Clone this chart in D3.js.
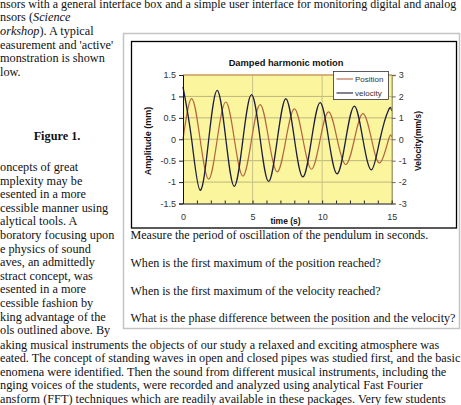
<!DOCTYPE html>
<html>
<head>
<meta charset="utf-8">
<script src="https://cdn.jsdelivr.net/npm/d3@7"></script>
<style>
  body { margin: 0; background: #fff; }
  svg { display: block; }
</style>
</head>
<body>
<div id="page"></div>
<script>
// readings from the figure: time (s), position (mm), velocity (mm/s)
var time     = [0, 0.62, 1.23, 1.85, 2.46, 3.08, 3.69, 4.31, 4.93, 5.55, 6.16, 6.78, 7.4,
                8.01, 8.62, 9.24, 9.86, 10.47, 11.08, 11.7, 12.32, 12.93, 13.55, 14.16, 14.78, 15];
var position = [0, 0.95, 0, -0.93, 0, 0.87, 0, -0.86, 0, 0.81, 0, -0.76, 0,
                0.71, 0, -0.7, 0, 0.64, 0, -0.59, 0, 0.6, 0, -0.55, 0, 0.05];
var velocity = [2.45, 0, -2.38, 0, 2.28, 0, -2.2, 0, 2.08, 0, -1.97, 0, 1.89,
                0, -1.76, 0, 1.71, 0, -1.61, 0, 1.55, 0, -1.43, 0, 1.38, 1.33];
var seriesNames = ["Position", "velocity"];
var seriesColors = ["#b4643e", "#1c1c3c"];
var ampTicks = [-1.5, -1, -0.5, 0, 0.5, 1, 1.5];
var velTicks = [-3, -2, -1, 0, 1, 2, 3];
var timeTicks = d3.range(0, 16);
var timeLabels = [0, 5, 10, 15];

var topLines = [
  {y: 7.5, size: 12, parts: [["nsors with a general interface box and a simple user interface for monitoring digital and analog", ""]]},
  {y: 21, parts: [["nsors (", ""], ["Science", "italic"]]},
  {y: 35, parts: [["orkshop", "italic"], ["). A typical", ""]]},
  {y: 49, parts: [["easurement and 'active'", ""]]},
  {y: 62, parts: [["monstration is shown", ""]]},
  {y: 76, parts: [["low.", ""]]}
];
var leftLines = ["oncepts of great", "mplexity may be", "esented in a more", "cessible manner using",
  "alytical tools. A", "boratory focusing upon", "e physics of sound", "aves, an admittedly",
  "stract concept, was", "esented in a more", "cessible fashion by", "king advantage of the",
  "ols outlined above. By"];
var bottomLines = [
  "aking musical instruments the objects of our study a relaxed and exciting atmosphere was",
  "eated. The concept of standing waves in open and closed pipes was studied first, and the basic",
  "enomena were identified. Then the sound from different musical instruments, including the",
  "nging voices of the students, were recorded and analyzed using analytical Fast Fourier",
  "ansform (FFT) techniques which are readily available in these packages. Very few students"
];
var questions = [
  "Measure the period of oscillation of the pendulum in seconds.",
  "When is the first maximum of the position reached?",
  "When is the first maximum of the velocity reached?",
  "What is the phase difference between the position and the velocity?"
];

var W = 461, H = 405;
var serif = "'Liberation Serif', 'Times New Roman', serif";
var sans = "'Liberation Sans', Arial, sans-serif";

var svg = d3.select("#page").append("svg")
  .attr("width", W)
  .attr("height", H);
svg.append("rect").attr("width", W).attr("height", H).attr("fill", "#fff");

// ---- surrounding page text ----
var txt = svg.append("g")
  .attr("font-family", serif)
  .attr("font-size", 12.25)
  .attr("fill", "#111");

topLines.forEach(function(l) {
  var t = txt.append("text").attr("x", 0).attr("y", l.y)
    .attr("font-size", l.size || null);
  l.parts.forEach(function(p) {
    t.append("tspan").attr("font-style", p[1] || null).text(p[0]);
  });
});

txt.append("text")
  .attr("x", 57).attr("y", 140)
  .attr("text-anchor", "middle")
  .attr("font-weight", "bold")
  .text("Figure 1.");

txt.selectAll(".left")
  .data(leftLines)
  .enter()
  .append("text")
  .attr("x", 0)
  .attr("y", function(d, i) { return 171 + i * 13.6; })
  .text(function(d) { return d; });

txt.selectAll(".bottom")
  .data(bottomLines)
  .enter()
  .append("text")
  .attr("x", 0)
  .attr("y", function(d, i) { return 348.5 + i * 13.6; })
  .text(function(d) { return d; });

// figure box
svg.append("rect")
  .attr("x", 123.5).attr("y", 33.5)
  .attr("width", 336).attr("height", 295)
  .attr("fill", "none")
  .attr("stroke", "#c4c4c4")
  .attr("stroke-width", 1.5);

txt.selectAll(".q")
  .data(questions)
  .enter()
  .append("text")
  .attr("x", 130.5)
  .attr("y", function(d, i) { return 239 + i * 27.8; })
  .attr("font-size", 12.05)
  .text(function(d) { return d; });

// ---- chart ----
svg.append("rect")
  .attr("x", 131.5).attr("y", 41.5)
  .attr("width", 325).attr("height", 186.5)
  .attr("fill", "#fff")
  .attr("stroke", "#000")
  .attr("stroke-width", 1.3);

var xScale = d3.scaleLinear().domain([0, 15]).range([183, 391.7]);
var yLeft = d3.scaleLinear().domain([-1.5, 1.5]).range([203.5, 75]);
var yRight = d3.scaleLinear().domain([-3, 3]).range([203.5, 75]);

var chart = svg.append("g").attr("font-family", sans);

chart.append("text")
  .attr("x", 286).attr("y", 65.5)
  .attr("text-anchor", "middle")
  .attr("font-size", 9.3)
  .attr("font-weight", "bold")
  .attr("fill", "#111")
  .text("Damped harmonic motion");

chart.append("rect")
  .attr("x", xScale(0)).attr("y", yLeft(1.5))
  .attr("width", xScale(15) - xScale(0))
  .attr("height", yLeft(-1.5) - yLeft(1.5))
  .attr("fill", "#fbf59e");

// gridlines
chart.selectAll(".hgrid")
  .data(ampTicks.slice(1, -1))
  .enter()
  .append("line")
  .attr("x1", xScale(0)).attr("x2", xScale(15))
  .attr("y1", function(d) { return yLeft(d); })
  .attr("y2", function(d) { return yLeft(d); })
  .attr("stroke", "#bdb77c")
  .attr("stroke-width", 1);
chart.selectAll(".vgrid")
  .data([5, 10])
  .enter()
  .append("line")
  .attr("x1", function(d) { return xScale(d); })
  .attr("x2", function(d) { return xScale(d); })
  .attr("y1", yLeft(1.5)).attr("y2", yLeft(-1.5))
  .attr("stroke", "#c9c288")
  .attr("stroke-width", 1);
chart.append("line")
  .attr("x1", xScale(0)).attr("x2", xScale(15))
  .attr("y1", yLeft(1.5)).attr("y2", yLeft(1.5))
  .attr("stroke", "#c89a5c")
  .attr("stroke-width", 1.6);

// series
var pts = time.map(function(t, i) { return {t: t, p: position[i], v: velocity[i]}; });
var posLine = d3.line()
  .x(function(d) { return xScale(d.t); })
  .y(function(d) { return yLeft(d.p); })
  .curve(d3.curveNatural);
var velLine = d3.line()
  .x(function(d) { return xScale(d.t); })
  .y(function(d) { return yRight(d.v); })
  .curve(d3.curveNatural);

chart.append("path")
  .datum(pts)
  .attr("d", posLine)
  .attr("fill", "none")
  .attr("stroke", seriesColors[0])
  .attr("stroke-width", 1.2);
chart.append("path")
  .datum(pts)
  .attr("d", velLine)
  .attr("fill", "none")
  .attr("stroke", seriesColors[1])
  .attr("stroke-width", 1.3);

// axes
var fmt = function(d) { return String(d); };
var leftAxis = chart.append("g")
  .attr("transform", "translate(" + xScale(0) + ",0)")
  .call(d3.axisLeft(yLeft).tickValues(ampTicks).tickSize(4).tickPadding(3).tickFormat(fmt));
var rightAxis = chart.append("g")
  .attr("transform", "translate(" + xScale(15) + ",0)")
  .call(d3.axisRight(yRight).tickValues(velTicks).tickSize(4).tickPadding(3).tickFormat(fmt));
var bottomAxis = chart.append("g")
  .attr("transform", "translate(0," + yLeft(-1.5) + ")")
  .call(d3.axisBottom(xScale).tickValues(timeTicks).tickSizeInner(-3).tickSizeOuter(0).tickPadding(10)
    .tickFormat(function(d) { return timeLabels.indexOf(d) >= 0 ? d : ""; }));

[leftAxis, rightAxis, bottomAxis].forEach(function(a) {
  a.selectAll("text")
    .attr("font-family", sans)
    .attr("font-size", 9)
    .attr("fill", "#333");
  a.selectAll(".tick line").attr("stroke", "#222");
  a.select(".domain").attr("stroke", "#111");
});
rightAxis.select(".domain").attr("stroke", "#a09a66").attr("stroke-width", 1.4);
rightAxis.selectAll(".tick line").attr("stroke", "#666");

// axis titles
chart.append("text")
  .attr("transform", "translate(151,141) rotate(-90)")
  .attr("text-anchor", "middle")
  .attr("font-size", 9)
  .attr("font-weight", "bold")
  .attr("fill", "#111")
  .text("Amplitude (mm)");
chart.append("text")
  .attr("transform", "translate(421,141) rotate(-90)")
  .attr("text-anchor", "middle")
  .attr("font-size", 8.5)
  .attr("font-weight", "bold")
  .attr("fill", "#111")
  .text("Velocity(mm/s)");
chart.append("text")
  .attr("x", 285.5).attr("y", 224)
  .attr("text-anchor", "middle")
  .attr("font-size", 8.5)
  .attr("font-weight", "bold")
  .attr("fill", "#111")
  .text("time (s)");

// legend
var legend = chart.append("g").attr("transform", "translate(333.5,71.5)");
legend.append("rect")
  .attr("width", 55).attr("height", 28)
  .attr("fill", "#fff")
  .attr("stroke", "#333")
  .attr("stroke-width", 0.8);
var item = legend.selectAll(".item")
  .data(seriesNames)
  .enter()
  .append("g")
  .attr("transform", function(d, i) { return "translate(0," + (7.5 + i * 14) + ")"; });
item.append("line")
  .attr("x1", 3).attr("x2", 19.5)
  .attr("stroke", function(d, i) { return seriesColors[i]; })
  .attr("stroke-width", 1.1);
item.append("text")
  .attr("x", 21.5).attr("y", 3)
  .attr("font-size", 8)
  .attr("fill", "#333")
  .text(function(d) { return d; });
</script>
</body>
</html>
